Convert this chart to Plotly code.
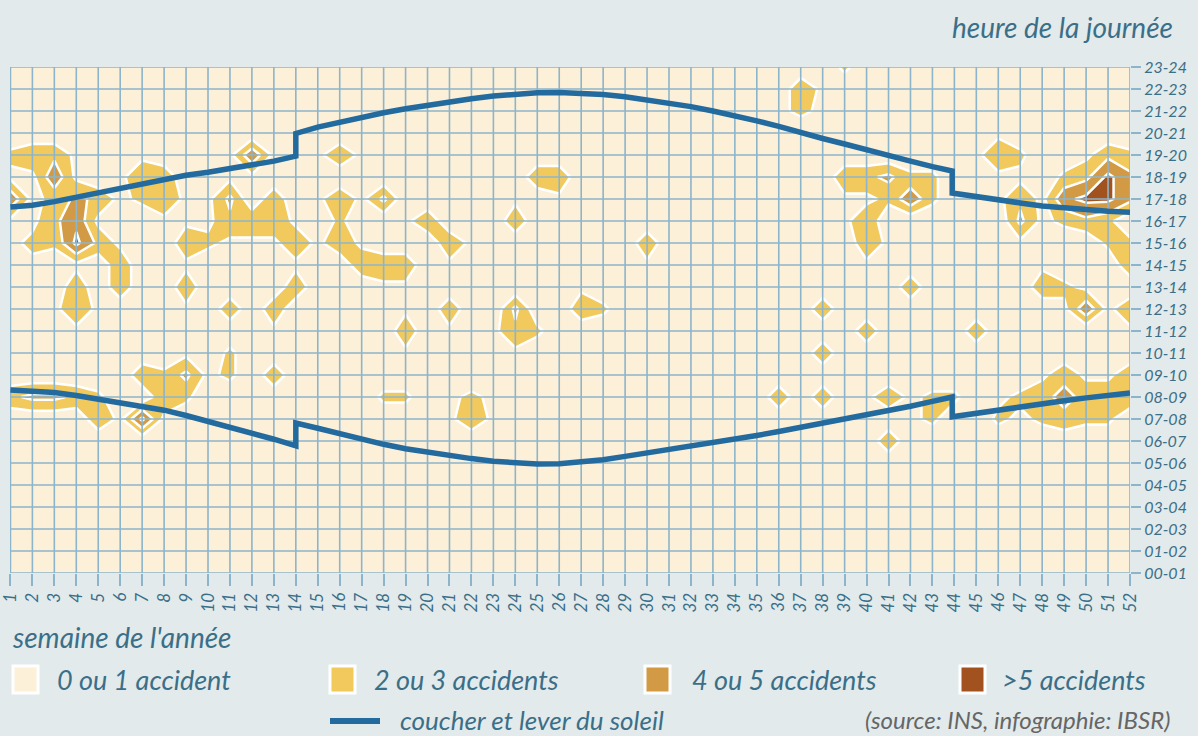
import plotly.graph_objects as go

# ---------------- data ----------------
weeks = list(range(1, 53))
hours = list(range(0, 24))
week_labels = [str(w) for w in weeks]
hour_labels = [f"{h:02d}-{h + 1:02d}" for h in hours]

# number of accidents per (hour, week); rows from hour 23 (top) down to hour 0,
# columns = weeks 1..52 (grouped by 10 for readability)
accidents_rows = [
    "0000000000 0000000000 0000000000 0000000020 0000000000 00",  # 23
    "0000000000 0000000000 0000000000 0000003100 0000000000 00",  # 22
    "0000000000 0000000000 0000000000 0000012100 0000000000 00",  # 21
    "0000000000 0000000000 0000000000 0000000000 0000010000 00",  # 20
    "2331001000 1510131000 0000000000 0000000000 0000132001 32",  # 19
    "1151013300 1100000000 0000330000 0000000033 4220011023 64",  # 18
    "5124312311 4030131400 0001010000 0000000011 2520013156 64",  # 17
    "1135100111 3331020013 0003000000 0000000013 0000004123 20",  # 16
    "1226310032 1113131000 3100000003 0000000003 1000001000 22",  # 15
    "0101030010 0001103330 1000000001 0000000001 1000000100 03",  # 14
    "0003030030 0103000110 0000001000 0000000000 0300000321 00",  # 13
    "0013100010 3030000010 3004003200 0000000300 0000000015 13",  # 12
    "0011000000 0010000030 1013200000 0000000003 0000300000 01",  # 11
    "0000000010 2000000010 0001000000 0000000300 0000000000 00",  # 10
    "0000003241 2030000000 0000000000 0000000000 0000000131 13",  # 09
    "3443200320 0100000220 1210000000 0000030301 3122012343 33",  # 08
    "0000316100 0000000000 1310000000 0000000000 0120021232 20",  # 07
    "0000000000 0000000000 0000000000 0000000000 3000000000 00",  # 06
    "0000000000 0000000000 0000000000 0000000000 0000000000 00",  # 05
    "0000000000 0000000000 0000000000 0000000000 0000000000 00",  # 04
    "0000000000 0000000000 0000000000 0000000000 0000000000 00",  # 03
    "0000000000 0000000000 0000000000 0000000000 0000000000 00",  # 02
    "0000000000 0000000000 0000000000 0000000000 0000000000 00",  # 01
    "0000000000 0000000000 0000000000 0000000000 0000000000 00",  # 00
]

# sunset / sunrise (hour of day) by week; the vertical steps are the DST changes
sunset_weeks = [1, 2, 3, 4, 5, 6, 7, 8, 9, 10, 11, 12, 13, 14, 14, 15, 16, 17, 18, 19, 20,
                21, 22, 23, 24, 25, 26, 27, 28, 29, 30, 31, 32, 33, 34, 35, 36, 37, 38, 39,
                40, 41, 42, 43, 43.9, 43.9, 45, 46, 47, 48, 49, 50, 51, 52]
sunset_hours = [16.64, 16.72, 16.88, 17.08, 17.3, 17.5, 17.7, 17.92, 18.08, 18.22, 18.38,
                18.55, 18.72, 18.95, 19.98, 20.27, 20.5, 20.72, 20.92, 21.1, 21.27, 21.42,
                21.56, 21.68, 21.77, 21.83, 21.84, 21.82, 21.75, 21.65, 21.52, 21.37, 21.2,
                21.0, 20.8, 20.55, 20.3, 20.0, 19.75, 19.5, 19.22, 18.98, 18.72, 18.47,
                18.27, 17.27, 17.13, 16.97, 16.82, 16.68, 16.58, 16.5, 16.44, 16.4]
sunrise_weeks = sunset_weeks
sunrise_hours = [8.32, 8.28, 8.2, 8.07, 7.9, 7.72, 7.56, 7.4, 7.16, 6.9, 6.63, 6.36, 6.08,
                 5.78, 6.82, 6.58, 6.32, 6.08, 5.85, 5.65, 5.48, 5.33, 5.2, 5.08, 5.0, 4.95,
                 4.97, 5.03, 5.15, 5.3, 5.45, 5.6, 5.75, 5.9, 6.07, 6.25, 6.43, 6.62, 6.8,
                 6.98, 7.16, 7.37, 7.58, 7.8, 8.0, 7.1, 7.27, 7.42, 7.56, 7.7, 7.83, 7.96,
                 8.08, 8.18]

class_labels = ["0 ou 1 accident", "2 ou 3 accidents", "4 ou 5 accidents", ">5 accidents"]
sun_label = "coucher et lever du soleil"
source_text = "(source: INS, infographie: IBSR)"

# ---------------- style ----------------
BG = "#e2eaec"
CREAM = "#fdf0d9"
YELLOW = "#f2c95d"
BROWN = "#d29a45"
DARK = "#a1521f"
SUN = "#236a9f"
GRID = "#8cb4ca"
TXT = "#3b6f88"
FONT = "Lato"
class_colors = [CREAM, YELLOW, BROWN, DARK]

W, H = 1198, 736
L, R, T, B = 10, 68, 67, 163
PW, PH = W - L - R, H - T - B


def px(x):
    return (x - L) / PW


def py(y):
    return (H - B - y) / PH


z = [[int(c) for c in row.replace(" ", "")] for row in accidents_rows][::-1]

fig = go.Figure()
fig.add_trace(go.Contour(
    x=weeks, y=hours, z=z,
    contours=dict(start=1.5, end=5.5, size=2, coloring="fill"),
    colorscale=[[0, CREAM], [1 / 3, YELLOW], [2 / 3, BROWN], [1, DARK]],
    line=dict(color="white", width=2.5, smoothing=0),
    showscale=False, hoverinfo="skip",
))

# grid drawn above the filled contours
gx, gy = [], []
for w in weeks:
    gx += [w, w, None]
    gy += [hours[0], hours[-1], None]
for h in hours:
    gx += [weeks[0], weeks[-1], None]
    gy += [h, h, None]
fig.add_trace(go.Scatter(x=gx, y=gy, mode="lines", line=dict(color=GRID, width=1.6),
                         hoverinfo="skip", showlegend=False))

for xs, ys in [(sunset_weeks, sunset_hours), (sunrise_weeks, sunrise_hours)]:
    fig.add_trace(go.Scatter(x=xs, y=ys, mode="lines",
                             line=dict(color=SUN, width=5.5), hoverinfo="skip",
                             showlegend=False))

fig.update_layout(
    width=W, height=H, margin=dict(l=L, r=R, t=T, b=B, autoexpand=False),
    paper_bgcolor=BG, plot_bgcolor=CREAM, showlegend=False,
    font=dict(family=FONT, color=TXT, style="italic"),
    xaxis=dict(range=[0.98, 52.0], tickvals=weeks, ticktext=week_labels,
               tickangle=-90, showgrid=False, zeroline=False, ticks="outside",
               ticklen=12, tickcolor=GRID, tickwidth=1.6, showline=False,
               ticklabeloverflow="allow",
               tickfont=dict(family=FONT, size=17, color=TXT, style="italic")),
    yaxis=dict(range=[0, 23], tickvals=hours, ticktext=hour_labels, side="right",
               showgrid=False, zeroline=False, ticks="outside", ticklen=10,
               tickcolor=GRID, tickwidth=1.6, showline=False,
               ticklabeloverflow="allow",
               tickfont=dict(family=FONT, size=16, color=TXT, style="italic")),
)

ann = []
ann.append(dict(x=px(1175), y=py(27), xref="paper", yref="paper", xanchor="right",
                yanchor="middle", showarrow=False, text="heure de la journée",
                font=dict(family=FONT, size=28, color=TXT, style="italic")))
ann.append(dict(x=px(10), y=py(637), xref="paper", yref="paper", xanchor="left",
                yanchor="middle", showarrow=False, text="semaine de l'année",
                font=dict(family=FONT, size=28, color=TXT, style="italic")))

shapes = []
sq_x = [13, 330, 645, 960]
tx_x = [55, 372, 690, 1000]
for sx, tx, col, lab in zip(sq_x, tx_x, class_colors, class_labels):
    shapes.append(dict(type="rect", xref="paper", yref="paper",
                       x0=px(sx), x1=px(sx + 25), y0=py(666), y1=py(693),
                       fillcolor=col, line=dict(color="white", width=3)))
    ann.append(dict(x=px(tx), y=py(679), xref="paper", yref="paper", xanchor="left",
                    yanchor="middle", showarrow=False, text=lab,
                    font=dict(family=FONT, size=27, color=TXT, style="italic")))
shapes.append(dict(type="line", xref="paper", yref="paper", x0=px(330), x1=px(380),
                   y0=py(721), y1=py(721), line=dict(color=SUN, width=6)))
ann.append(dict(x=px(398), y=py(720), xref="paper", yref="paper", xanchor="left",
                yanchor="middle", showarrow=False, text=sun_label,
                font=dict(family=FONT, size=26, color=TXT, style="italic")))
ann.append(dict(x=px(1172), y=py(720), xref="paper", yref="paper", xanchor="right",
                yanchor="middle", showarrow=False, text=source_text,
                font=dict(family=FONT, size=24, color="#666666", style="italic")))

fig.update_layout(annotations=ann, shapes=shapes)
fig.write_html("out.html", config={"displayModeBar": False},
               post_script="document.body.style.margin='0';")
